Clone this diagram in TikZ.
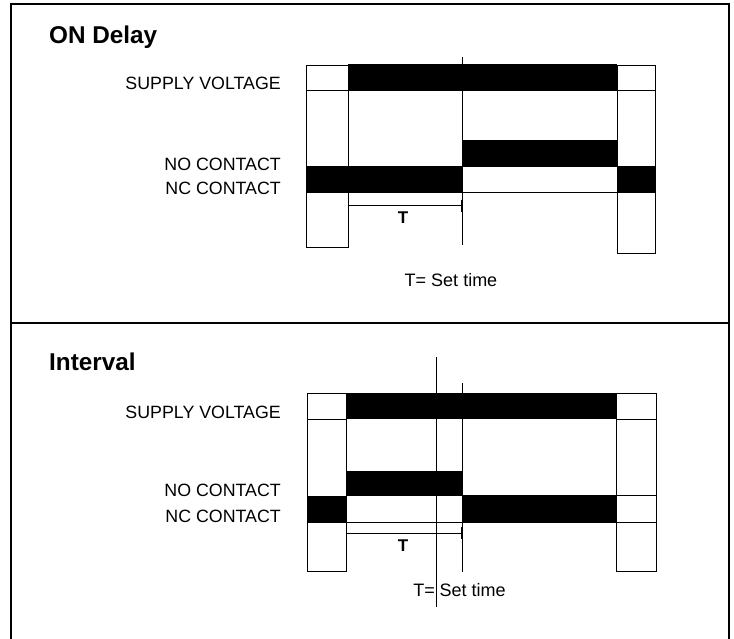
\documentclass[tikz,border=0pt]{standalone}
\usepackage{fontspec}
\setmainfont{Liberation Sans}
\usepackage{tikz}
\usetikzlibrary{arrows.meta}

\tikzset{
  frameline/.style={line width=2pt},
  sigline/.style={line width=1pt},
  sigbar/.style={fill=black},
  lbl/.style={anchor=east, inner sep=0pt, font=\fontsize{17.8}{20}\selectfont},
  ttl/.style={anchor=west, inner sep=0pt, font=\fontsize{24.3}{28}\selectfont\bfseries},
  tlabel/.style={inner sep=0pt, font=\fontsize{17}{18}\selectfont\bfseries},
  settime/.style={inner sep=0pt, font=\fontsize{18}{20}\selectfont},
  dimline/.style={sigline, {Bar[width=12pt]}-{Bar[width=12pt]}}
}

\begin{document}
\begin{tikzpicture}[x=1pt, y=-1pt]
		\useasboundingbox (0,0) rectangle (734,639);
		% Frame
		\draw[frameline] (11,640) -- (11,4) -- (729,4) -- (729,640);
		\draw[frameline] (11,323) -- (729,323);

		% ON Delay
		\node[ttl] (ondelay) at (49,37) {ON Delay};
		\node[lbl] (onsupply) at (281,83) {SUPPLY VOLTAGE};
		\node[lbl] (onno) at (281,164) {NO CONTACT};
		\node[lbl] (onnc) at (281,188) {NC CONTACT};
		% bars
		\fill[sigbar] (348,64) rectangle (617,91);
		\fill[sigbar] (462,140) rectangle (617,167);
		\fill[sigbar] (306,166) rectangle (462,193);
		\fill[sigbar] (617,166) rectangle (655,193);
		% columns
		\draw[sigline] (306,66) rectangle (348,248);
		\draw[sigline] (617,66) rectangle (655,254);
		\draw[sigline] (306,91) -- (348,91);
		\draw[sigline] (617,91) -- (655,91);
		\draw[sigline] (306,193) -- (348,193);
		\draw[sigline] (462,193) -- (655,193);
		% switch line
		\draw[sigline] (462,57) -- (462,245);
		% T
		\draw[dimline] (348,206) -- (462,206);
		\node[tlabel] (ont) at (403,218) {T};
		\node[settime] (onset) at (451,280) {T= Set time};

		% Interval
		\node[ttl] (interval) at (49,362) {Interval};
		\node[lbl] (insupply) at (281,412) {SUPPLY VOLTAGE};
		\node[lbl] (inno) at (281,490) {NO CONTACT};
		\node[lbl] (innc) at (281,516) {NC CONTACT};
		% bars
		\fill[sigbar] (346,393) rectangle (616,419);
		\fill[sigbar] (346,471) rectangle (462,496);
		\fill[sigbar] (307,496) rectangle (346,522);
		\fill[sigbar] (462,495) rectangle (616,522);
		% columns
		\draw[sigline] (307,393) rectangle (346,571);
		\draw[sigline] (616,393) rectangle (656,571);
		\draw[sigline] (307,419) -- (346,419);
		\draw[sigline] (616,419) -- (656,419);
		\draw[sigline] (616,495) -- (656,495);
		\draw[sigline] (307,522) -- (656,522);
		% switch lines
		\draw[sigline] (462,383) -- (462,572);
		\draw[sigline] (436,357) -- (436,607);
		% T
		\draw[dimline] (346,533) -- (462,533);
		\node[tlabel] (int) at (403,546) {T};
		\node[settime, anchor=east] (inset) at (435,590) {T=};
		\node[settime, anchor=west] (intime) at (439.5,590) {Set time};
	\end{tikzpicture}
\end{document}
